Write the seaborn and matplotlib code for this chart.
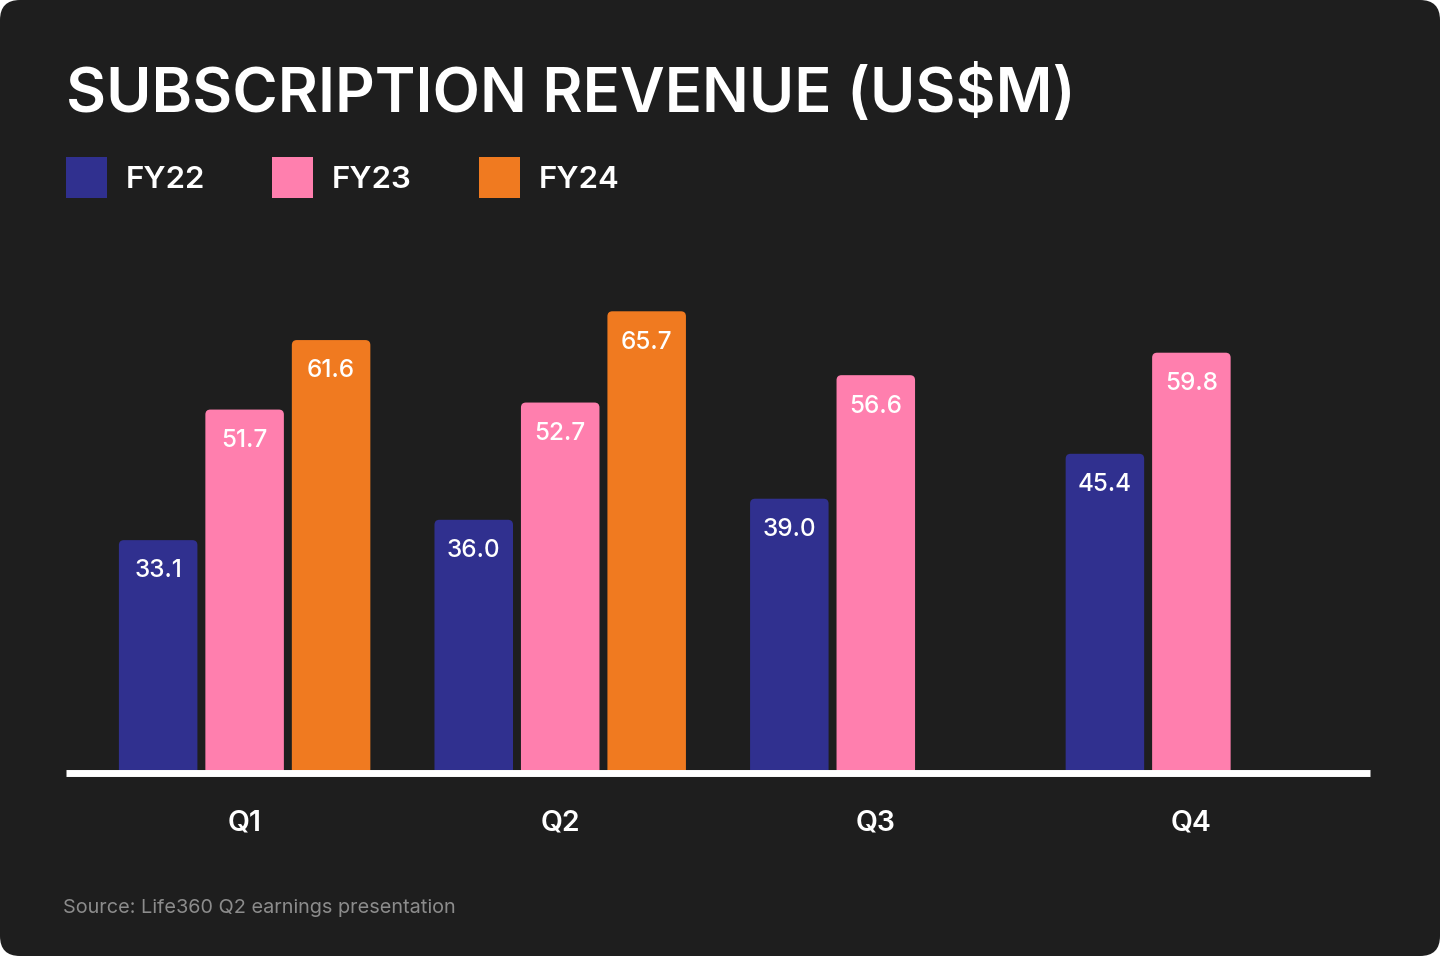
import matplotlib
matplotlib.use("Agg")
import matplotlib.pyplot as plt
from matplotlib.patches import FancyBboxPatch
import seaborn as sns
import pandas as pd

# --- data ---
quarters = ["Q1", "Q2", "Q3", "Q4"]
years = ["FY22", "FY23", "FY24"]
fy22 = [33.1, 36.0, 39.0, 45.4]
fy23 = [51.7, 52.7, 56.6, 59.8]
fy24 = [61.6, 65.7]  # Q3/Q4 not reported yet

colors = ["#30308f", "#ff7fae", "#f07a20"]
bg = "#1e1e1e"

rows = []
for year, vals in zip(years, [fy22, fy23, fy24]):
    for q, v in zip(quarters, vals):
        rows.append({"quarter": q, "year": year, "revenue": v})
df = pd.DataFrame(rows)

sns.set_theme(style="white")
plt.rcParams["font.family"] = ["Inter", "DejaVu Sans"]

W, H, DPI = 1440, 956, 100
fig = plt.figure(figsize=(W / DPI, H / DPI), dpi=DPI)
fig.patch.set_facecolor("white")
# dark card with rounded corners, kept behind the axes
card = FancyBboxPatch((0, 0), W / DPI, H / DPI, boxstyle="round,pad=0,rounding_size=0.2",
                      transform=fig.dpi_scale_trans, facecolor=bg, edgecolor="none",
                      zorder=-10)
fig.patches.append(card)

# axes placement in pixels: bars baseline at y=772.5, 7.02 px per US$M
px_per_unit = 7.02
ymax = 72
base_px = 772.5
ax = fig.add_axes([66 / W, (H - base_px) / H, 1304 / W, ymax * px_per_unit / H])
ax.set_facecolor("none")

sns.barplot(data=df, x="quarter", y="revenue", hue="year", order=quarters,
            hue_order=years, palette=colors, width=0.822, gap=0.092,
            saturation=1, ax=ax)

ax.set_xlim(-0.566, 3.566)
ax.set_ylim(0, ymax)

# legend first, while the original bar patches still exist
handles, labels = ax.get_legend_handles_labels()
leg = ax.legend(handles, labels, loc="upper left", bbox_to_anchor=(66 / W, 1 - 157 / H),
                bbox_transform=fig.transFigure, ncol=3, frameon=False, borderpad=0,
                borderaxespad=0, handlelength=1.31, handleheight=1.66,
                handletextpad=0.6, columnspacing=2.15, prop={"size": 22.5, "weight": "semibold"})
for t in leg.get_texts():
    t.set_color("white")
for h in leg.legend_handles:
    h.set_edgecolor("none")

# value labels inside the top of each bar
for cont in ax.containers:
    ax.bar_label(cont, fmt="%.1f", padding=-30.5, color="white", fontsize=17.5,
                 fontweight="medium")

# swap the square bars for ones with slightly rounded top corners
r_px = 5
rx = r_px / 315.5
ry = r_px / px_per_unit
for p in list(ax.patches):
    x, y = p.get_x(), p.get_y()
    w, h = p.get_width(), p.get_height()
    fc = p.get_facecolor()
    p.remove()
    rb = FancyBboxPatch((x, y - ry), w, h + ry, boxstyle=f"round,pad=0,rounding_size={rx}",
                        mutation_aspect=ry / rx, facecolor=fc, edgecolor="none", zorder=1)
    ax.add_patch(rb)

for s in ["top", "right", "left"]:
    ax.spines[s].set_visible(False)
ax.spines["bottom"].set_color("white")
ax.spines["bottom"].set_linewidth(5)
ax.spines["bottom"].set_capstyle("butt")
ax.set_yticks([])
ax.set_xlabel("")
ax.set_ylabel("")
ax.tick_params(axis="x", length=0, pad=27, labelsize=20.5, labelcolor="white")
for t in ax.get_xticklabels():
    t.set_fontweight("semibold")

fig.text(66 / W, 1 - 112 / H, "SUBSCRIPTION REVENUE (US$M)", color="white",
         fontsize=44.4, fontweight="semibold", va="baseline", ha="left")
fig.text(63 / W, 1 - 913 / H, "Source: Life360 Q2 earnings presentation", color="#8c8c8c",
         fontsize=14.3, fontweight="normal", va="baseline", ha="left")

fig.savefig("out.png", dpi=DPI, facecolor=fig.get_facecolor())
